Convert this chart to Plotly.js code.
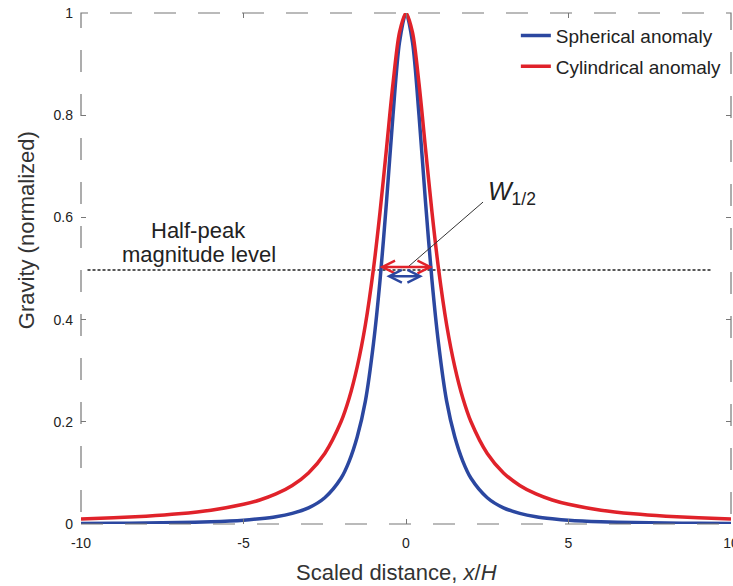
<!DOCTYPE html>
<html>
<head>
<meta charset="utf-8">
<script src="https://cdn.plot.ly/plotly-3.0.1.min.js"></script>
<style>html,body{margin:0;padding:0;background:#fff;}#chart{width:733px;height:586px;}</style>
</head>
<body>
<div id="chart"></div>
<script>
// Scaled distance x/H
const xVals = [-10,-9,-8,-7,-6,-5,-4.5,-4,-3.5,-3,-2.5,-2,-1.75,-1.5,-1.25,-1,-0.8,-0.6,-0.4,-0.2,0,
               0.2,0.4,0.6,0.8,1,1.25,1.5,1.75,2,2.5,3,3.5,4,4.5,5,6,7,8,9,10];
// Spherical anomaly (normalized gravity)
const sphere = [0.001,0.0014,0.0019,0.0028,0.0044,0.0075,0.0104,0.0143,0.0209,0.0316,0.0514,0.0894,0.1226,0.1707,0.2404,0.3536,0.4761,0.6305,0.8004,0.9429,1.0,
                0.9429,0.8004,0.6305,0.4761,0.3536,0.2404,0.1707,0.1226,0.0894,0.0514,0.0316,0.0209,0.0143,0.0104,0.0075,0.0044,0.0028,0.0019,0.0014,0.001];
// Cylindrical anomaly (normalized gravity)
const cylinder = [0.0099,0.0122,0.0154,0.02,0.027,0.0385,0.047,0.0588,0.0755,0.1,0.138,0.2,0.246,0.308,0.39,0.5,0.61,0.735,0.862,0.962,1.0,
                  0.962,0.862,0.735,0.61,0.5,0.39,0.308,0.246,0.2,0.138,0.1,0.0755,0.0588,0.047,0.0385,0.027,0.02,0.0154,0.0122,0.0099];
const halfLevel = 0.497;
const halfLineX = [-9.8, 9.4];
const xTicks = [-10,-5,0,5,10];
const xTickText = ['-10','-5','0','5','10'];
const yTicks = [0,0.2,0.4,0.6,0.8,1];
const yTickText = ['0','0.2','0.4','0.6','0.8','1'];
const redArrow = {x0:-0.86, x1:0.83, y:0.503};
const blueArrow = {x0:-0.65, x1:0.52, y:0.485};
const leader = {x0:2.37, y0:0.630, x1:0.06, y1:0.503};

const FONT = 'Arial, "Liberation Sans", sans-serif';
const RED = '#e0222a';
const BLUE = '#2b47a0';

const traces = [
  {x: halfLineX, y: [halfLevel, halfLevel], mode:'lines', line:{color:'#222', width:1.5, dash:'3px,2px'}, showlegend:false, hoverinfo:'skip'},
  {x: xVals, y: sphere, mode:'lines', name:'Spherical anomaly', legendgroup:'a', line:{color:BLUE, width:3.5, shape:'spline', smoothing:0.8}},
  {x: xVals, y: cylinder, mode:'lines', name:'Cylindrical anomaly', legendgroup:'b', line:{color:RED, width:3.5, shape:'spline', smoothing:0.8}}
];

const layout = {
  width:733, height:586,
  margin:{l:81, r:2, t:13, b:62},
  paper_bgcolor:'#fff', plot_bgcolor:'#fff',
  font:{family:FONT, color:'#222'},
  xaxis:{range:[-10,10], tickvals:xTicks, ticktext:xTickText, ticks:'inside', ticklen:5, tickcolor:'#777',
         mirror:'ticks', showgrid:false, zeroline:false, showline:false, tickfont:{size:14, color:'#222'},
         ticklabelstandoff:9, ticklabeloverflow:'allow'},
  yaxis:{range:[0,1], tickvals:yTicks, ticktext:yTickText, ticks:'inside', ticklen:5, tickcolor:'#777',
         mirror:'ticks', showgrid:false, zeroline:false, showline:false, tickfont:{size:14, color:'#222'},
         ticklabelstandoff:7, ticklabeloverflow:'allow'},
  legend:{x:0.669, y:0.993, xanchor:'left', yanchor:'top', bgcolor:'rgba(255,255,255,0)', font:{size:19, color:'#222'},
          traceorder:'grouped', tracegroupgap:3},
  shapes:[
    {type:'rect', xref:'paper', yref:'paper', x0:0, x1:1, y0:0, y1:1, line:{color:'#777', width:1.2, dash:'22px,22px'}},
    {type:'line', xref:'x', yref:'y', x0:leader.x0, y0:leader.y0, x1:leader.x1, y1:leader.y1, line:{color:'#333', width:1}}
  ],
  annotations:[
    {x:redArrow.x1, y:redArrow.y, ax:redArrow.x0, ay:redArrow.y, xref:'x', yref:'y', axref:'x', ayref:'y', text:'',
     showarrow:true, arrowside:'end+start', arrowhead:5, arrowsize:1, arrowwidth:2.5, arrowcolor:RED},
    {x:blueArrow.x1, y:blueArrow.y, ax:blueArrow.x0, ay:blueArrow.y, xref:'x', yref:'y', axref:'x', ayref:'y', text:'',
     showarrow:true, arrowside:'end+start', arrowhead:5, arrowsize:1, arrowwidth:2.5, arrowcolor:BLUE},
    {x:2.45, y:0.648, xref:'x', yref:'y', xanchor:'left', yanchor:'middle', showarrow:false,
     text:'<i>W</i><sub>1/2</sub>', font:{size:25, color:'#222'}},
    {x:-6.37, y:0.574, xref:'x', yref:'y', xanchor:'center', yanchor:'middle', showarrow:false, borderpad:0,
     text:'Half-peak', font:{size:22, color:'#222'}},
    {x:-6.37, y:0.527, xref:'x', yref:'y', xanchor:'center', yanchor:'middle', showarrow:false, borderpad:0,
     text:'magnitude level', font:{size:22, color:'#222'}},
    {x:-0.0846, y:0.575, xref:'paper', yref:'paper', xanchor:'center', yanchor:'middle', showarrow:false, textangle:-90,
     text:'Gravity (normalized)', font:{size:22, color:'#333'}},
    {x:0.486, y:-0.094, xref:'paper', yref:'paper', xanchor:'center', yanchor:'middle', showarrow:false,
     text:'Scaled distance, <i>x</i>/<i>H</i>', font:{size:22, color:'#333'}}
  ]
};

Plotly.newPlot('chart', traces, layout, {displayModeBar:false, staticPlot:true});
</script>
</body>
</html>
